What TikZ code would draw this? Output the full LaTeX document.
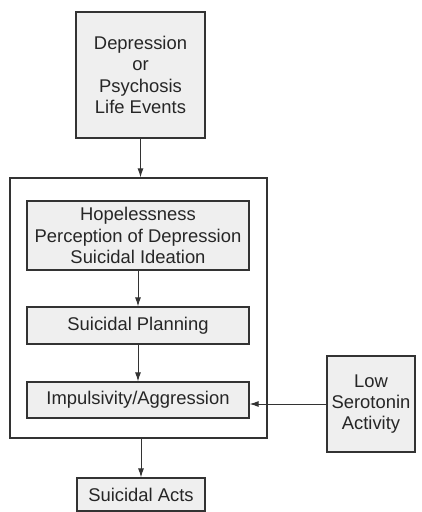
\documentclass[tikz,border=0pt]{standalone}
\usepackage{fontspec}
\setmainfont{Liberation Sans}
\usetikzlibrary{positioning,arrows.meta}
\definecolor{boxfill}{HTML}{EFEFEF}
\definecolor{edge}{HTML}{333333}

\begin{document}
\begin{tikzpicture}[x=1pt, y=-1pt,
  every node/.style={font=\fontsize{18.4}{21.3}\selectfont, text=black!85},
  stage/.style={draw=edge, line width=1.2pt, fill=boxfill, align=center, inner sep=0pt},
  link/.style={draw=edge, line width=1pt, -{Latex[length=9pt,width=6pt]}}]
  \useasboundingbox (0,0) rectangle (422,512);
  % --- trigger on top ---
  \node[stage, minimum width=129, minimum height=126] (trigger) at (140.5,75)
    {Depression\\or\\Psychosis\\Life Events};
  % --- outer frame with the three stages ---
  \node[draw=edge, line width=1.2pt, minimum width=257, minimum height=260] (frame) at (138.5,308) {};
  \node[stage, minimum width=222, minimum height=69] (hope) at (138,235.5)
    {Hopelessness\\Perception of Depression\\Suicidal Ideation};
  \node[stage, minimum width=222, minimum height=37] (plan) at (138,325.5) {Suicidal Planning};
  \node[stage, minimum width=222, minimum height=36] (imp) at (138,400) {Impulsivity/Aggression};
  % --- side factor ---
  \node[stage, minimum width=88, minimum height=96] (sero) at (371,404)
    {Low\\Serotonin\\Activity};
  % --- outcome ---
  \node[stage, minimum width=128, minimum height=33] (acts) at (141,494.5) {Suicidal Acts};

  % Arrows
  \draw[link] (trigger) -- (trigger |- frame.north);
  \draw[link] (hope) -- (plan);
  \draw[link] (plan) -- (imp);
  \draw[link] (acts |- frame.south) -- (acts);
  \draw[link] (sero) -- (sero -| imp.east);
\end{tikzpicture}
\end{document}
